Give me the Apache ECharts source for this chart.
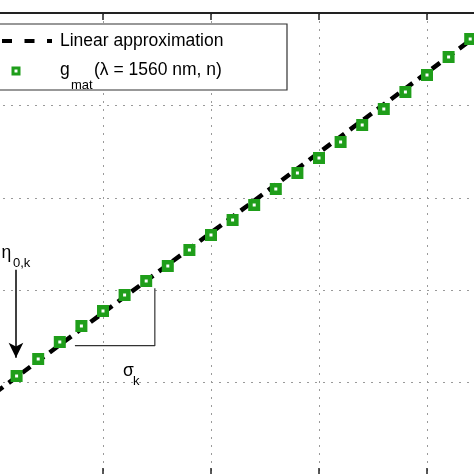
<!DOCTYPE html>
<html>
<head>
<meta charset="utf-8">
<script src="https://cdn.jsdelivr.net/npm/echarts@6/dist/echarts.min.js"></script>
<style>html,body{margin:0;padding:0;background:#fff;}#c{width:474px;height:474px;}</style>
</head>
<body>
<div id="c"></div>
<script>
// index n of the measured points
const nValues = [1,2,3,4,5,6,7,8,9,10,11,12,13,14,15,16,17,18,19,20,21,22];
// g_mat(lambda = 1560 nm, n) (arbitrary units)
const gMat = [1.071,1.255,1.439,1.613,1.775,1.948,2.100,2.262,2.435,2.597,2.760,2.922,3.095,3.268,3.431,3.604,3.788,3.961,4.145,4.329,4.524,4.719];
// linear approximation endpoints [n, value]
const linearApprox = [[0, 0.888], [23, 4.876]];
// slope triangle (sigma_k) corner points
const slopeTriangle = [[3.7, 1.40], [7.4, 1.40], [7.4, 2.02]];
// eta_{0,k} arrow: start and tip
const etaArrow = [[0.97, 2.22], [0.97, 1.27]];

const GREEN = '#1f9e1a';
const FONT = '"Liberation Sans", Arial, sans-serif';
const chart = echarts.init(document.getElementById('c'));

const grid = {left: -5, right: -61, top: 13, bottom: -1, outerBoundsMode: 'none', containLabel: false};
const split = {show: true, lineStyle: {color: '#9a9a9a', width: 1, type: [2, 6]}};

chart.setOption({
  animation: false,
  grid: grid,
  xAxis: [
    {type: 'value', min: 0, max: 25, interval: 5, position: 'bottom',
     axisLine: {show: true, lineStyle: {color: '#222', width: 1.5}},
     axisTick: {show: true, inside: true, length: 7, lineStyle: {color: '#222', width: 1.5}},
     axisLabel: {show: false}, splitLine: split},
    {type: 'value', min: 0, max: 25, interval: 5, position: 'top',
     axisLine: {show: true, lineStyle: {color: '#222', width: 1.8}},
     axisTick: {show: true, inside: true, length: 7, lineStyle: {color: '#222', width: 1.5}},
     axisLabel: {show: false}, splitLine: {show: false}}
  ],
  yAxis: [
    {type: 'value', min: 0, max: 5, interval: 1,
     axisLine: {show: false}, axisTick: {show: false}, axisLabel: {show: false}, splitLine: split}
  ],
  series: [
    {type: 'line', name: 'Linear approximation', data: linearApprox, symbol: 'none', silent: true, z: 2,
     lineStyle: {color: '#000', width: 4.5, type: [10, 7]}},
    {type: 'line', name: 'triangle', data: slopeTriangle, symbol: 'none', silent: true, z: 2,
     lineStyle: {color: '#333', width: 1.2}},
    {type: 'line', name: 'arrow', data: [], symbol: 'none', silent: true, z: 3,
     markLine: {silent: true, symbol: ['none', 'arrow'], symbolSize: [11, 15], label: {show: false},
       lineStyle: {color: '#000', width: 1.5, type: 'solid'},
       data: [[{coord: etaArrow[0]}, {coord: etaArrow[1]}]]}},
    {type: 'line', name: 'gmat', data: nValues.map((n, i) => [n, gMat[i]]), z: 4,
     lineStyle: {opacity: 0}, symbol: 'rect', symbolSize: 7.5, showSymbol: true,
     itemStyle: {color: '#fff', borderColor: GREEN, borderWidth: 4.5}}
  ],
  graphic: [
    {type: 'rect', z: 100, shape: {x: -2, y: 24, width: 289, height: 66},
     style: {fill: '#fff', stroke: '#333', lineWidth: 1.2}},
    {type: 'line', z: 101, shape: {x1: 2, y1: 41, x2: 52, y2: 41},
     style: {stroke: '#000', lineWidth: 4, lineDash: [10, 12.5]}},
    {type: 'rect', z: 101, shape: {x: 13, y: 68, width: 6, height: 6},
     style: {fill: '#fff', stroke: GREEN, lineWidth: 3}},
    {type: 'text', z: 101, style: {text: 'Linear approximation', x: 60, y: 41, font: '17.5px ' + FONT, fill: '#000', verticalAlign: 'middle'}},
    {type: 'text', z: 101, style: {text: 'g', x: 60, y: 70, font: '17.5px ' + FONT, fill: '#000', verticalAlign: 'middle'}},
    {type: 'text', z: 101, style: {text: 'mat', x: 71, y: 85, font: '13px ' + FONT, fill: '#000', verticalAlign: 'middle'}},
    {type: 'text', z: 101, style: {text: '(λ = 1560 nm, n)', x: 94, y: 70, font: '17.5px ' + FONT, fill: '#000', verticalAlign: 'middle'}},
    {type: 'text', z: 101, style: {text: 'η', x: 1.5, y: 253, font: '17.5px ' + FONT, fill: '#000', verticalAlign: 'middle'}},
    {type: 'text', z: 101, style: {text: '0,k', x: 13, y: 263.5, font: '13px ' + FONT, fill: '#000', verticalAlign: 'middle'}},
    {type: 'text', z: 101, style: {text: 'σ', x: 123, y: 371, font: '17.5px ' + FONT, fill: '#000', verticalAlign: 'middle'}},
    {type: 'text', z: 101, style: {text: 'k', x: 133, y: 381.5, font: '13px ' + FONT, fill: '#000', verticalAlign: 'middle'}}
  ]
});
</script>
</body>
</html>
